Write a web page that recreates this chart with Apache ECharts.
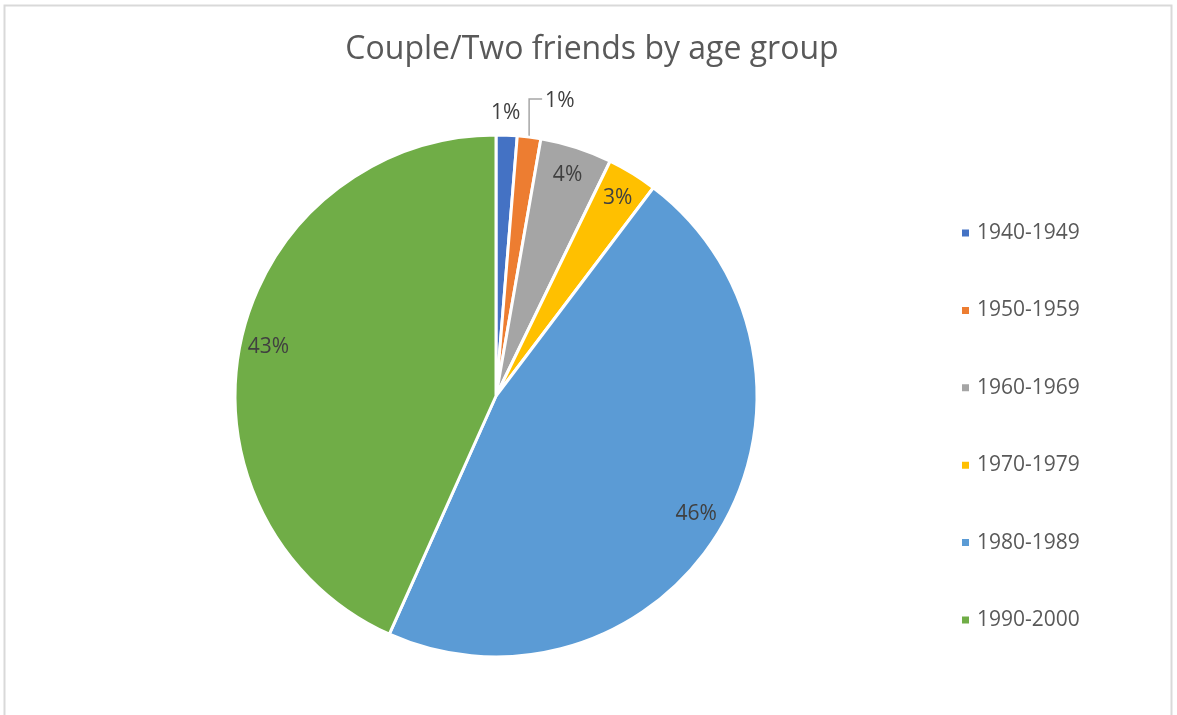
<!DOCTYPE html>
<html>
<head>
<meta charset="utf-8">
<style>
  html, body { margin: 0; padding: 0; background: #fff; }
  #chart { width: 1177px; height: 715px; }
</style>
<script src="https://cdn.jsdelivr.net/npm/echarts@6/dist/echarts.min.js"></script>
</head>
<body>
<div id="chart"></div>
<script>
// Share of couples / two friends by birth decade (percent)
const categories = ['1940-1949', '1950-1959', '1960-1969', '1970-1979', '1980-1989', '1990-2000'];
const shares = [1.3, 1.45, 4.45, 3.1, 46.4, 43.3];
const colors = ['#4472C4', '#ED7D31', '#A5A5A5', '#FFC000', '#5B9BD5', '#70AD47'];
const titleText = 'Couple/Two friends by age group';

const FONT = '"Open Sans", "Noto Sans", sans-serif';
const CENTER = [496, 396];
const R = 261;

const sliceData = categories.map((name, i) => ({
  name: name,
  value: shares[i],
  itemStyle: { color: colors[i] }
}));

// Label layer: same slices, transparent, so inside labels sit near the rim
const labelData = categories.map((name, i) => {
  const item = { name: name, value: shares[i] };
  if (i === 0) {
    item.label = { position: 'outside' };
    item.labelLine = { show: false };
  } else if (i === 1) {
    item.label = { position: 'outside' };
    item.labelLine = { show: true };
  }
  return item;
});

const chart = echarts.init(document.getElementById('chart'), null, { renderer: 'canvas' });

chart.setOption({
  animation: false,
  backgroundColor: '#ffffff',
  title: {
    text: titleText,
    left: 587,
    top: 29,
    textAlign: 'center',
    textStyle: { fontFamily: FONT, fontSize: 32, fontWeight: 'normal', color: '#595959' }
  },
  legend: {
    orient: 'vertical',
    left: 955,
    top: 217,
    itemWidth: 9,
    itemHeight: 9,
    itemGap: 55.4,
    icon: 'rect',
    data: categories,
    textStyle: { fontFamily: FONT, fontSize: 21, color: '#595959', lineHeight: 22, padding: [0, 0, 0, 2] }
  },
  graphic: [{
    type: 'rect',
    left: 2,
    top: 3,
    shape: { width: 1167, height: 760 },
    style: { fill: 'none', stroke: '#d9d9d9', lineWidth: 2 },
    silent: true
  }],
  series: [
    {
      type: 'pie',
      name: 'slices',
      center: CENTER,
      radius: [0, R],
      startAngle: 90,
      clockwise: true,
      label: { show: false },
      labelLine: { show: false },
      itemStyle: { borderColor: '#ffffff', borderWidth: 3 },
      emphasis: { disabled: true },
      data: sliceData
    },
    {
      type: 'pie',
      name: 'labels',
      center: CENTER,
      radius: [R * 0.76, R],
      startAngle: 90,
      clockwise: true,
      silent: true,
      avoidLabelOverlap: false,
      itemStyle: { color: 'rgba(0,0,0,0)', borderWidth: 0 },
      label: {
        show: true,
        position: 'inside',
        formatter: p => Math.round(p.value) + '%',
        fontFamily: FONT,
        fontSize: 21,
        color: '#404040'
      },
      labelLine: {
        length: 10,
        length2: 10,
        lineStyle: { color: '#a6a6a6', width: 1.5 }
      },
      labelLayout: function (p) {
        if (!p.labelLinePoints) return {};
        const s = p.labelLinePoints[0];
        if (p.dataIndex === 0) {
          return { x: s[0] - 1, y: s[1] - 22, align: 'center', verticalAlign: 'middle' };
        }
        if (p.dataIndex === 1) {
          const top = s[1] - 38;
          return {
            x: s[0] + 16, y: top + 2, align: 'left', verticalAlign: 'middle',
            labelLinePoints: [[s[0], s[1]], [s[0], top], [s[0] + 13, top]]
          };
        }
        return {};
      },
      emphasis: { disabled: true },
      data: labelData
    }
  ]
});
</script>
</body>
</html>
